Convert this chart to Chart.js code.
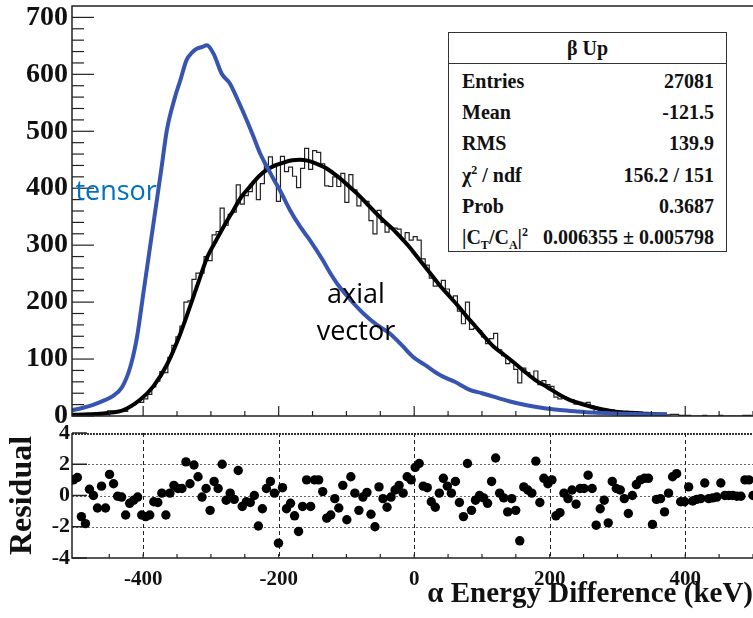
<!DOCTYPE html>
<html>
<head>
<meta charset="utf-8">
<script src="https://cdn.jsdelivr.net/npm/chart.js@4.4.1/dist/chart.umd.min.js"></script>
<style>
  html, body { margin: 0; padding: 0; background: #fff; }
  #wrap { position: relative; width: 753px; height: 618px; overflow: hidden; background: #fff; }
  canvas { position: absolute; left: 0; }
  #topChart { top: 0; }
  #resChart { top: 425px; }
  .stats {
    position: absolute; left: 448px; top: 32px; width: 279px; height: 220px;
    box-sizing: border-box; border: 1.5px solid #333; background: #fff;
    font-family: "Liberation Serif", "Times New Roman", serif; font-weight: bold;
    font-size: 20px; color: #111;
  }
  .st-head { height: 30px; line-height: 30px; text-align: center; border-bottom: 1.5px solid #333; }
  .st-rows { padding-top: 2px; }
  .st-row { display: flex; justify-content: space-between; height: 31.2px; line-height: 31.2px; padding: 0 12px 0 13px; }
  .st-row sup, .st-row sub { font-size: 12px; line-height: 0; }
</style>
</head>
<body>
<div id="wrap">
  <canvas id="topChart" width="753" height="425"></canvas>
  <canvas id="resChart" width="753" height="193"></canvas>
  <div class="stats">
    <div class="st-head">β Up</div>
    <div class="st-rows">
      <div class="st-row"><span>Entries</span><span>27081</span></div>
      <div class="st-row"><span>Mean</span><span>-121.5</span></div>
      <div class="st-row"><span>RMS</span><span>139.9</span></div>
      <div class="st-row"><span>χ<sup>2</sup> / ndf</span><span>156.2 / 151</span></div>
      <div class="st-row"><span>Prob</span><span>0.3687</span></div>
      <div class="st-row"><span>|C<sub>T</sub>/C<sub>A</sub>|<sup>2</sup></span><span>0.006355 ± 0.005798</span></div>
    </div>
  </div>
</div>
<script>
// histogram bins (keV)
const binStart = -503;
const binWidth = 5.935;

// measured counts per bin
const histCounts = [
  3, 4, 1, 0, 4, 3, 2, 6, 3, 9,
  9, 8, 9, 8, 15, 20, 25, 24, 30, 38,
  51, 61, 78, 76, 103, 124, 139, 158, 200, 202,
  240, 251, 251, 280, 273, 318, 324, 365, 335, 354,
  358, 406, 372, 387, 394, 412, 380, 408, 441, 455,
  442, 377, 456, 429, 437, 421, 401, 435, 470, 433,
  466, 463, 443, 404, 403, 420, 403, 426, 375, 424,
  397, 369, 378, 377, 343, 320, 361, 340, 323, 329,
  330, 328, 311, 322, 309, 315, 309, 276, 265, 242,
  228, 232, 238, 223, 208, 211, 184, 162, 200, 152,
  154, 150, 139, 127, 136, 145, 116, 106, 92, 95,
  82, 58, 84, 76, 69, 79, 55, 62, 55, 52,
  33, 30, 34, 29, 29, 21, 24, 22, 24, 18,
  7, 9, 10, 4, 11, 9, 8, 6, 3, 5,
  7, 7, 6, 6, 0, 3, 2, 1, 2, 3,
  3, 1, 1, 1, 0, 0, 0, 1, 0, 0,
  0, 1, 0, 0, 0, 0, 0, 1, 1, 0
];

// residual per bin
const residuals = [
  1.0, 1.15, -1.35, -1.8, 0.4, 0, -0.8, 0.6, -0.8, 1.35,
  0.75, -0.05, -0.1, -1.25, -0.5, -0.3, -0.1, -1.25, -1.35, -1.25,
  -0.4, -0.45, 0.15, -1.25, 0.15, 0.65, 0.45, 0.45, 2.15, 0.75,
  1.95, 1.2, -0.1, 0.45, -0.95, 0.9, 0.45, 2.0, -0.3, 0.15,
  -0.25, 1.6, -0.7, -0.4, -0.45, 0, -1.95, -0.85, 0.45, 0.9,
  0.15, -3.05, 0.5, -0.85, -0.5, -1.3, -2.3, -0.7, 1.0, -0.7,
  1.0, 1.0, 0.25, -1.45, -1.25, -0.2, -0.8, 0.65, -1.55, 1.2,
  0.15, -0.95, -0.1, 0.2, -1.2, -2.0, 0.55, -0.2, -0.75, -0.1,
  0.35, 0.65, 0.15, 1.2, 1.0, 1.8, 2.05, 0.6, 0.5, -0.4,
  -0.75, 0.15, 1.1, 0.6, 0.15, 0.9, -0.45, -1.35, 2.05, -0.95,
  -0.3, 0, -0.15, -0.5, 0.9, 2.4, 0.15, -0.15, -1.05, -0.2,
  -0.95, -2.9, 0.55, 0.35, 0.15, 2.2, -0.45, 1.1, 0.75, 1.0,
  -1.3, -1.1, 0.15, -0.2, 0.35, -0.55, 0.45, 0.45, 1.3, 0.45,
  -1.9, -0.85, -0.3, -1.75, 0.9, 0.45, 0.35, -0.2, -1.15, 0,
  0.7, 1.0, 1.1, 1.1, -1.85, -0.25, -0.2, -1.05, 0.15, 1.2,
  1.4, -0.4, -0.4, 0.55, -0.35, -0.25, -0.2, 0.8, -0.2, -0.15,
  -0.1, 0.8, 0, 0, 0, -0.05, -0.05, 1.0, 1.0, 0
];

// axial vector fit curve
const fitX = [-505, -480, -455, -430, -405, -385, -365, -345, -330, -317, -305, -292, -280, -267, -255, -243,
  -230, -218, -205, -193, -180, -169, -156, -144, -131, -119, -107, -95, -82, -70, -58, -46, -33, -21, -8,
  4, 16, 28, 40, 53, 65, 78, 90, 103, 117, 130, 147, 166, 180, 196, 215, 230, 245, 265, 280, 294, 314, 343, 373];
const fitY = [2, 3, 5, 10, 28, 52, 90, 145, 195, 240, 280, 309, 335, 361, 385, 402,
  420, 432, 440, 445, 449, 450, 448, 443, 436, 426, 415, 402, 388, 373, 358, 344, 330, 315, 298,
  280, 262, 244, 226, 209, 193, 174, 158, 140, 122, 110, 94, 75, 62, 51, 37, 28, 22, 15, 11, 8, 6, 4, 2];

// tensor curve
const tensorX = [-505, -490, -475, -460, -446, -431, -419, -409, -400, -391, -382, -373, -365, -353, -345, -336,
  -328, -321, -313, -306, -296, -284, -272, -260, -247, -237, -227, -217, -207, -198, -183, -168, -154,
  -135, -124, -114, -100, -75, -55, -36, -18, -2, 18, 38, 60, 82, 100, 117, 140, 166, 190, 215, 240, 264,
  295, 323, 350, 373];
const tensorY = [10, 14, 19, 26, 34, 51, 86, 139, 213, 287, 361, 435, 502, 560, 590, 625,
  638, 645, 648, 651, 636, 601, 584, 554, 519, 490, 460, 437, 415, 396, 361, 332, 309,
  274, 251, 233, 212, 180, 160, 145, 124, 104, 88, 72, 60, 46, 40, 34, 26, 19, 14, 10.5, 8, 6,
  4.5, 3.5, 3, 3];

// labelled x ticks
const xTickValues = [-400, -200, 0, 200, 400];

const binCenters = histCounts.map((c, i) => binStart + binWidth * i);

const serif = '"Liberation Serif", "Times New Roman", serif';
const ink = '#111';

// text labels placed in data coordinates
const curveLabels = [
  { text: 'tensor', x: -500, y: 379, color: '#0070c0', align: 'left' },
  { text: 'axial', x: -86, y: 198, color: '#000', align: 'center' },
  { text: 'vector', x: -86, y: 133, color: '#000', align: 'center' }
];

function line(ctx, x1, y1, x2, y2) {
  ctx.beginPath();
  ctx.moveTo(x1, y1);
  ctx.lineTo(x2, y2);
  ctx.stroke();
}

function fixWidth(w) {
  return scale => { scale.width = w; scale.paddingTop = 0; scale.paddingBottom = 0; };
}
function fixHeight(h) {
  return scale => { scale.height = h; scale.paddingLeft = 0; scale.paddingRight = 0; };
}

const topFrame = {
  id: 'topFrame',
  afterDraw(chart) {
    const { ctx, chartArea: a, scales: { x, y } } = chart;
    ctx.save();
    ctx.strokeStyle = '#222';
    ctx.lineWidth = 1.5;
    ctx.beginPath();
    ctx.moveTo(a.right + 2, a.top);
    ctx.lineTo(a.left, a.top);
    ctx.lineTo(a.left, a.bottom);
    ctx.lineTo(a.right + 2, a.bottom);
    ctx.stroke();
    ctx.lineWidth = 1.2;
    for (let v = 0; v <= 700; v += 20) {
      const py = y.getPixelForValue(v);
      const len = v % 100 === 0 ? 22 : 12;
      line(ctx, a.left, py, a.left + len, py);
    }
    for (let v = -450; v <= 500; v += 50) {
      const px = x.getPixelForValue(v);
      const len = v % 200 === 0 ? 10 : 5;
      line(ctx, px, a.bottom, px, a.bottom - len);
    }
    curveLabels.forEach(l => {
      ctx.font = '27px "Open Sans", "Liberation Sans", sans-serif';
      ctx.fillStyle = l.color;
      ctx.textAlign = l.align;
      ctx.textBaseline = 'alphabetic';
      ctx.fillText(l.text, x.getPixelForValue(l.x), y.getPixelForValue(l.y));
    });
    ctx.restore();
  }
};

const resFrame = {
  id: 'resFrame',
  beforeDatasetsDraw(chart) {
    const { ctx, chartArea: a, scales: { x, y } } = chart;
    ctx.save();
    ctx.lineWidth = 1;
    ctx.strokeStyle = '#666';
    ctx.setLineDash([2, 2]);
    [-2, 0, 2].forEach(v => {
      const py = Math.round(y.getPixelForValue(v)) + 0.5;
      line(ctx, a.left, py, a.right, py);
    });
    // dotted top edge
    ctx.lineWidth = 2;
    ctx.strokeStyle = '#333';
    ctx.setLineDash([2, 1]);
    line(ctx, a.left, a.top + 1, a.right, a.top + 1);
    ctx.lineWidth = 1;
    ctx.strokeStyle = '#222';
    ctx.setLineDash([4, 3]);
    xTickValues.forEach(v => {
      const px = Math.round(x.getPixelForValue(v)) + 0.5;
      line(ctx, px, a.top, px, a.bottom);
    });
    ctx.setLineDash([]);
    ctx.lineWidth = 1.5;
    ctx.beginPath();
    ctx.moveTo(a.left, a.top);
    ctx.lineTo(a.left, a.bottom);
    ctx.lineTo(a.right + 2, a.bottom);
    ctx.stroke();
    ctx.lineWidth = 1.5;
    [-4, -2, 0, 2, 4].forEach(v => {
      const py = y.getPixelForValue(v);
      line(ctx, a.left, py, a.left + 15, py);
    });
    ctx.lineWidth = 1.2;
    for (let v = -450; v <= 500; v += 50) {
      const px = x.getPixelForValue(v);
      line(ctx, px, a.bottom, px, a.bottom - 4);
    }
    ctx.restore();
  }
};

Chart.defaults.font.family = serif;
Chart.defaults.color = ink;

new Chart(document.getElementById('topChart'), {
  type: 'line',
  data: {
    datasets: [
      {
        label: 'tensor',
        data: tensorX.map((v, i) => ({ x: v, y: tensorY[i] })),
        borderColor: '#3654b0',
        borderWidth: 4,
        pointRadius: 0,
        cubicInterpolationMode: 'monotone'
      },
      {
        label: 'axial vector fit',
        data: fitX.map((v, i) => ({ x: v, y: fitY[i] })),
        borderColor: '#000',
        borderWidth: 4,
        pointRadius: 0,
        cubicInterpolationMode: 'monotone'
      },
      {
        label: 'data',
        data: binCenters.map((v, i) => ({ x: v, y: histCounts[i] })),
        borderColor: '#222',
        borderWidth: 1.2,
        pointRadius: 0,
        stepped: 'middle'
      }
    ]
  },
  options: {
    responsive: false,
    animation: false,
    devicePixelRatio: 1,
    layout: { autoPadding: false, padding: { top: 6, right: 0, bottom: 9, left: 0 } },
    plugins: { legend: { display: false }, tooltip: { enabled: false } },
    scales: {
      x: {
        type: 'linear', min: -505, max: 500,
        grid: { display: false }, border: { display: false },
        ticks: { display: false },
        afterFit: fixHeight(0)
      },
      y: {
        min: 0, max: 720,
        grid: { display: false, drawTicks: false }, border: { display: false },
        ticks: { stepSize: 100, includeBounds: false, padding: 4, color: ink,
          font: { family: serif, weight: 'bold', size: 28 } },
        afterFit: fixWidth(72)
      }
    }
  },
  plugins: [topFrame]
});

new Chart(document.getElementById('resChart'), {
  type: 'scatter',
  data: {
    datasets: [{
      label: 'Residual',
      data: binCenters.map((v, i) => ({ x: v, y: residuals[i] })),
      backgroundColor: '#000',
      borderWidth: 0,
      pointRadius: 4.7
    }]
  },
  options: {
    responsive: false,
    animation: false,
    devicePixelRatio: 1,
    layout: { autoPadding: false, padding: { top: 8, right: 0, bottom: 0, left: 0 } },
    plugins: { legend: { display: false }, tooltip: { enabled: false } },
    scales: {
      x: {
        type: 'linear', min: -505, max: 500,
        grid: { display: false, drawTicks: false }, border: { display: false },
        ticks: { padding: 9, color: ink,
          font: { family: serif, weight: 'bold', size: 21 } },
        afterBuildTicks: scale => { scale.ticks = xTickValues.map(v => ({ value: v })); },
        title: { display: true, text: 'α Energy Difference (keV)', align: 'end', color: ink,
          padding: { top: 0, bottom: 6 }, font: { family: serif, weight: 'bold', size: 29 } },
        afterFit: fixHeight(60)
      },
      y: {
        min: -4, max: 4,
        grid: { display: false, drawTicks: false }, border: { display: false },
        ticks: { stepSize: 2, padding: 2, color: ink,
          font: { family: serif, weight: 'bold', size: 22 } },
        title: { display: true, text: 'Residual', color: ink,
          padding: { top: 4, bottom: 0 }, font: { family: serif, weight: 'bold', size: 32 } },
        afterFit: fixWidth(72)
      }
    }
  },
  plugins: [resFrame]
});
</script>
</body>
</html>
